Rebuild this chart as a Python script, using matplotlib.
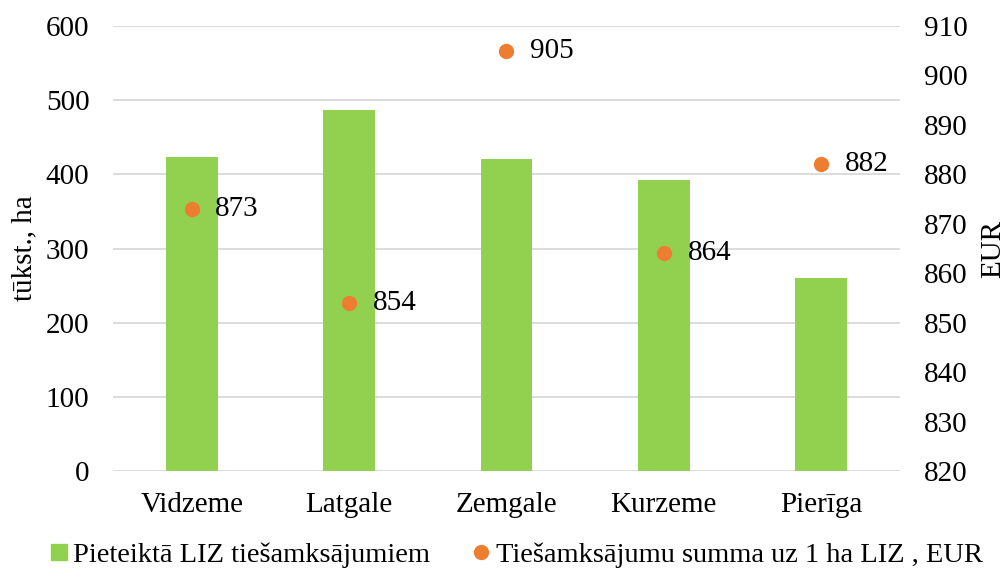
import matplotlib.pyplot as plt
from matplotlib.lines import Line2D

regions = ["Vidzeme", "Latgale", "Zemgale", "Kurzeme", "Pierīga"]
area = [423, 487, 421, 392, 260]
payment = [873, 854, 905, 864, 882]

plt.rcParams["font.family"] = ["Liberation Serif", "DejaVu Serif"]

fig = plt.figure(figsize=(10.07, 5.71), dpi=100)
ax = fig.add_axes([0.1122, 0.1751, 0.7815, 0.7793])
ax2 = ax.twinx()

x = list(range(len(regions)))
ax.bar(x, area, width=0.33, color="#92D050", zorder=2)
ax.set_ylim(0, 600)
ax.set_yticks(range(0, 601, 100))
ax.set_xlim(-0.5, 4.5)
ax.set_xticks(x)
ax.set_xticklabels(regions)
ax.grid(axis="y", color="#d9d9d9", linewidth=1.3, zorder=0)
ax.set_axisbelow(True)
ax.tick_params(axis="y", length=0, labelsize=21, pad=17)
ax.tick_params(axis="x", length=0, labelsize=21, pad=15)
ax.set_ylabel("tūkst., ha", fontsize=21, labelpad=6)

ax2.scatter(x, payment, s=100, color="#ED7D31", zorder=3)
for i, v in enumerate(payment):
    ax2.annotate(str(v), (x[i], v), xytext=(17, 0), textcoords="offset points",
                 va="center", ha="left", fontsize=21)
ax2.set_ylim(820, 910)
ax2.set_yticks(range(820, 911, 10))
ax2.tick_params(length=0, labelsize=21, pad=17)
ax2.set_ylabel("EUR", fontsize=21, labelpad=9)

for a in (ax, ax2):
    for s in a.spines.values():
        s.set_visible(False)

handles = [
    Line2D([], [], marker="s", linestyle="", color="#92D050", markersize=12),
    Line2D([], [], marker="o", linestyle="", color="#ED7D31", markersize=10),
]
fig.legend(handles, ["Pieteiktā LIZ tiešamksājumiem", "Tiešamksājumu summa uz 1 ha LIZ , EUR"],
           loc="lower center", ncol=2, frameon=False, fontsize=20.5,
           bbox_to_anchor=(0.51, -0.04), handletextpad=0.0, handlelength=1.0,
           columnspacing=1.3)

fig.savefig("out.png", dpi=100)
